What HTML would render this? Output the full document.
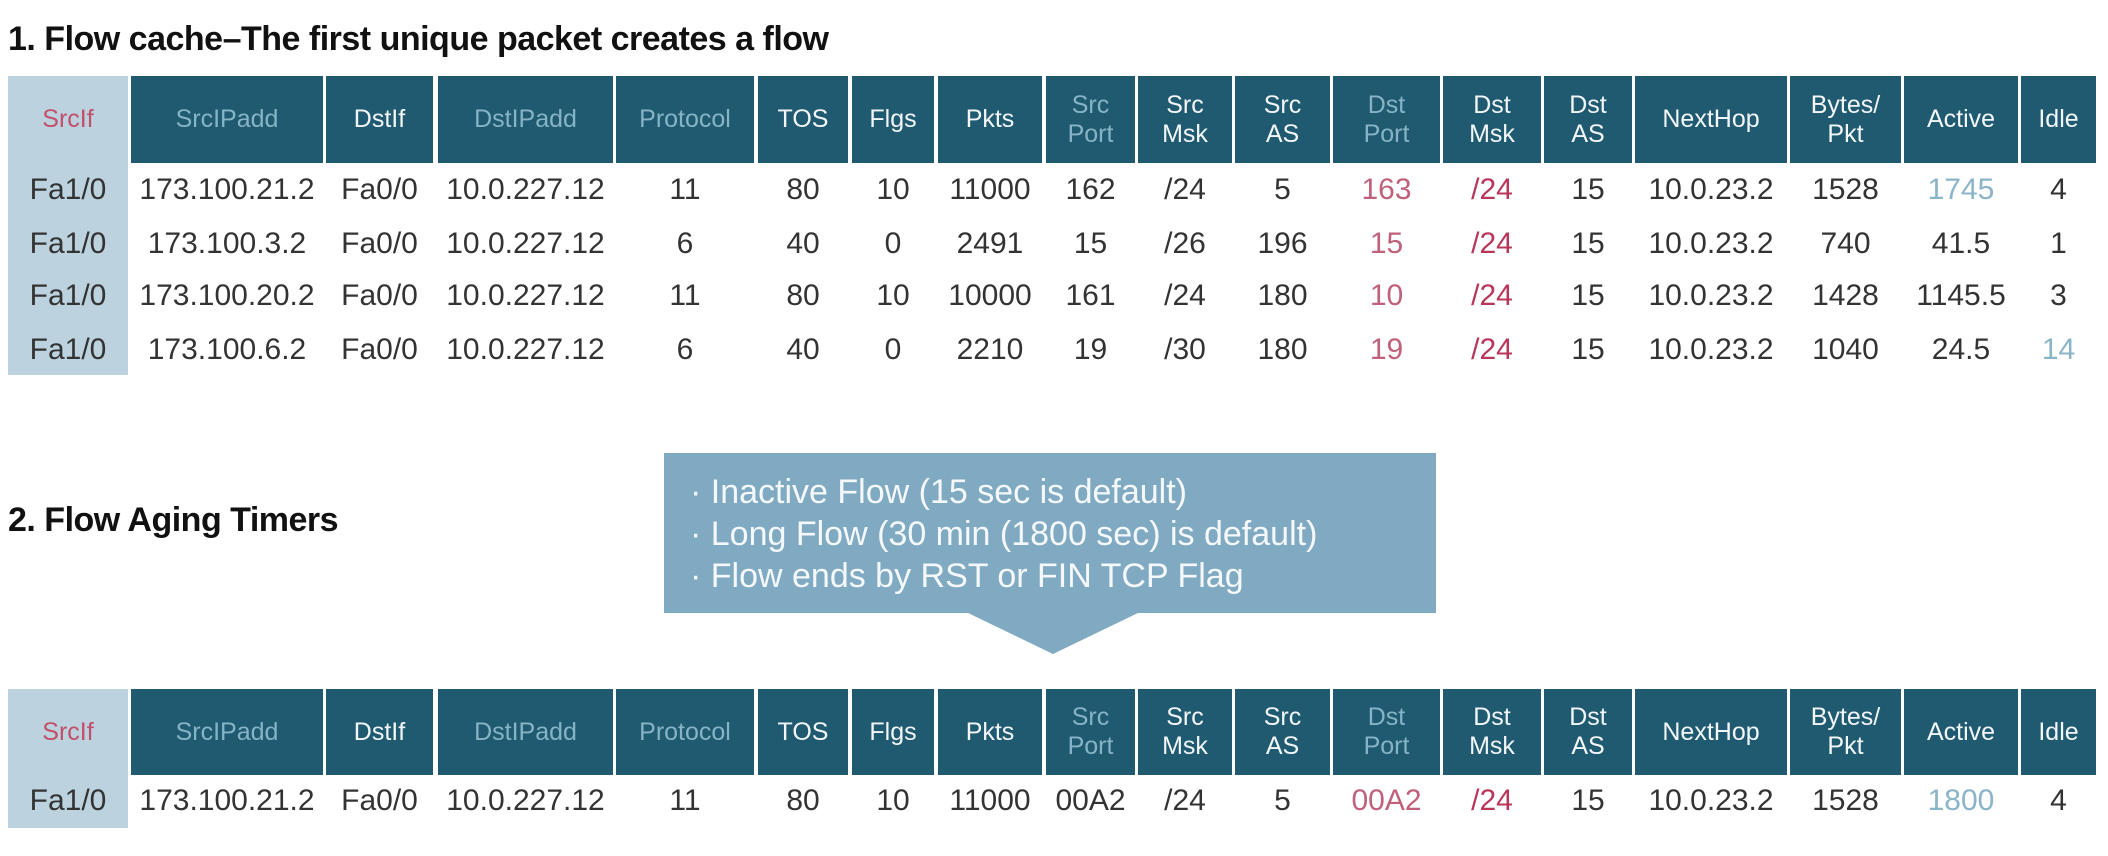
<!DOCTYPE html>
<html><head><meta charset="utf-8"><style>
body{margin:0;width:2108px;height:856px;background:#fff;position:relative;overflow:hidden;font-family:"Liberation Sans",sans-serif;}
.t{position:absolute;left:8px;font-weight:bold;font-size:34px;color:#111;letter-spacing:-0.5px;}
.lc{position:absolute;left:8px;width:120px;background:#bcd3df;}
.h,.d{position:absolute;display:flex;align-items:center;justify-content:center;text-align:center;}
.h{background:#1f5a70;color:#f2f6f8;font-size:25px;line-height:29px;}
.h.m{color:#86b4c6;}
.h.s{background:transparent;color:#c2506a;}
.d{font-size:30px;color:#333;height:50px;}
.c0{left:8px;width:120px}.c1{left:131px;width:192px}.c2{left:326px;width:107px}.c3{left:438px;width:175px}
.c4{left:616px;width:138px}.c5{left:758px;width:90px}.c6{left:852px;width:82px}.c7{left:938px;width:104px}
.c8{left:1046px;width:89px}.c9{left:1138px;width:94px}.c10{left:1235px;width:95px}.c11{left:1333px;width:107px}
.c12{left:1443px;width:98px}.c13{left:1544px;width:88px}.c14{left:1635px;width:152px}.c15{left:1790px;width:111px}
.c16{left:1904px;width:114px}.c17{left:2021px;width:75px}
.pk{color:#c0607a!important}.rd{color:#b8365a!important}.lb{color:#8ab4c8!important}
.box{position:absolute;left:664px;top:453px;width:772px;height:160px;background:#80aac2;}
.box div{position:absolute;left:26px;color:#f4f8fa;font-size:34px;white-space:nowrap;}
</style></head><body>
<div class="t" style="top:20px">1. Flow cache–The first unique packet creates a flow</div>
<div class="lc" style="top:76px;height:299px"></div>
<div class="h s c0" style="top:76px;height:87px">SrcIf</div>
<div class="h m c1" style="top:76px;height:87px">SrcIPadd</div>
<div class="h c2" style="top:76px;height:87px">DstIf</div>
<div class="h m c3" style="top:76px;height:87px">DstIPadd</div>
<div class="h m c4" style="top:76px;height:87px">Protocol</div>
<div class="h c5" style="top:76px;height:87px">TOS</div>
<div class="h c6" style="top:76px;height:87px">Flgs</div>
<div class="h c7" style="top:76px;height:87px">Pkts</div>
<div class="h m c8" style="top:76px;height:87px">Src<br>Port</div>
<div class="h c9" style="top:76px;height:87px">Src<br>Msk</div>
<div class="h c10" style="top:76px;height:87px">Src<br>AS</div>
<div class="h m c11" style="top:76px;height:87px">Dst<br>Port</div>
<div class="h c12" style="top:76px;height:87px">Dst<br>Msk</div>
<div class="h c13" style="top:76px;height:87px">Dst<br>AS</div>
<div class="h c14" style="top:76px;height:87px">NextHop</div>
<div class="h c15" style="top:76px;height:87px">Bytes/<br>Pkt</div>
<div class="h c16" style="top:76px;height:87px">Active</div>
<div class="h c17" style="top:76px;height:87px">Idle</div>

<div class="d c0" style="top:165px">Fa1/0</div><div class="d c1" style="top:165px">173.100.21.2</div><div class="d c2" style="top:165px">Fa0/0</div><div class="d c3" style="top:165px">10.0.227.12</div><div class="d c4" style="top:165px">11</div><div class="d c5" style="top:165px">80</div><div class="d c6" style="top:165px">10</div><div class="d c7" style="top:165px">11000</div><div class="d c8" style="top:165px">162</div><div class="d c9" style="top:165px">/24</div><div class="d c10" style="top:165px">5</div><div class="d c11 pk" style="top:165px">163</div><div class="d c12 rd" style="top:165px">/24</div><div class="d c13" style="top:165px">15</div><div class="d c14" style="top:165px">10.0.23.2</div><div class="d c15" style="top:165px">1528</div><div class="d c16 lb" style="top:165px">1745</div><div class="d c17" style="top:165px">4</div>

<div class="d c0" style="top:219px">Fa1/0</div><div class="d c1" style="top:219px">173.100.3.2</div><div class="d c2" style="top:219px">Fa0/0</div><div class="d c3" style="top:219px">10.0.227.12</div><div class="d c4" style="top:219px">6</div><div class="d c5" style="top:219px">40</div><div class="d c6" style="top:219px">0</div><div class="d c7" style="top:219px">2491</div><div class="d c8" style="top:219px">15</div><div class="d c9" style="top:219px">/26</div><div class="d c10" style="top:219px">196</div><div class="d c11 pk" style="top:219px">15</div><div class="d c12 rd" style="top:219px">/24</div><div class="d c13" style="top:219px">15</div><div class="d c14" style="top:219px">10.0.23.2</div><div class="d c15" style="top:219px">740</div><div class="d c16" style="top:219px">41.5</div><div class="d c17" style="top:219px">1</div>

<div class="d c0" style="top:271px">Fa1/0</div><div class="d c1" style="top:271px">173.100.20.2</div><div class="d c2" style="top:271px">Fa0/0</div><div class="d c3" style="top:271px">10.0.227.12</div><div class="d c4" style="top:271px">11</div><div class="d c5" style="top:271px">80</div><div class="d c6" style="top:271px">10</div><div class="d c7" style="top:271px">10000</div><div class="d c8" style="top:271px">161</div><div class="d c9" style="top:271px">/24</div><div class="d c10" style="top:271px">180</div><div class="d c11 pk" style="top:271px">10</div><div class="d c12 rd" style="top:271px">/24</div><div class="d c13" style="top:271px">15</div><div class="d c14" style="top:271px">10.0.23.2</div><div class="d c15" style="top:271px">1428</div><div class="d c16" style="top:271px">1145.5</div><div class="d c17" style="top:271px">3</div>

<div class="d c0" style="top:325px">Fa1/0</div><div class="d c1" style="top:325px">173.100.6.2</div><div class="d c2" style="top:325px">Fa0/0</div><div class="d c3" style="top:325px">10.0.227.12</div><div class="d c4" style="top:325px">6</div><div class="d c5" style="top:325px">40</div><div class="d c6" style="top:325px">0</div><div class="d c7" style="top:325px">2210</div><div class="d c8" style="top:325px">19</div><div class="d c9" style="top:325px">/30</div><div class="d c10" style="top:325px">180</div><div class="d c11 pk" style="top:325px">19</div><div class="d c12 rd" style="top:325px">/24</div><div class="d c13" style="top:325px">15</div><div class="d c14" style="top:325px">10.0.23.2</div><div class="d c15" style="top:325px">1040</div><div class="d c16" style="top:325px">24.5</div><div class="d c17 lb" style="top:325px">14</div>

<div class="t" style="top:501px">2. Flow Aging Timers</div>
<div class="box">
<div style="top:20px">· Inactive Flow (15 sec is default)</div>
<div style="top:62px">· Long Flow (30 min (1800 sec) is default)</div>
<div style="top:104px">· Flow ends by RST or FIN TCP Flag</div>
</div>
<svg style="position:absolute;left:0;top:0" width="2108" height="856"><polygon points="966,612 1140,612 1053,654" fill="#80aac2"/></svg>

<div class="lc" style="top:689px;height:139px"></div>
<div class="h s c0" style="top:689px;height:86px">SrcIf</div>
<div class="h m c1" style="top:689px;height:86px">SrcIPadd</div>
<div class="h c2" style="top:689px;height:86px">DstIf</div>
<div class="h m c3" style="top:689px;height:86px">DstIPadd</div>
<div class="h m c4" style="top:689px;height:86px">Protocol</div>
<div class="h c5" style="top:689px;height:86px">TOS</div>
<div class="h c6" style="top:689px;height:86px">Flgs</div>
<div class="h c7" style="top:689px;height:86px">Pkts</div>
<div class="h m c8" style="top:689px;height:86px">Src<br>Port</div>
<div class="h c9" style="top:689px;height:86px">Src<br>Msk</div>
<div class="h c10" style="top:689px;height:86px">Src<br>AS</div>
<div class="h m c11" style="top:689px;height:86px">Dst<br>Port</div>
<div class="h c12" style="top:689px;height:86px">Dst<br>Msk</div>
<div class="h c13" style="top:689px;height:86px">Dst<br>AS</div>
<div class="h c14" style="top:689px;height:86px">NextHop</div>
<div class="h c15" style="top:689px;height:86px">Bytes/<br>Pkt</div>
<div class="h c16" style="top:689px;height:86px">Active</div>
<div class="h c17" style="top:689px;height:86px">Idle</div>

<div class="d c0" style="top:776px">Fa1/0</div><div class="d c1" style="top:776px">173.100.21.2</div><div class="d c2" style="top:776px">Fa0/0</div><div class="d c3" style="top:776px">10.0.227.12</div><div class="d c4" style="top:776px">11</div><div class="d c5" style="top:776px">80</div><div class="d c6" style="top:776px">10</div><div class="d c7" style="top:776px">11000</div><div class="d c8" style="top:776px">00A2</div><div class="d c9" style="top:776px">/24</div><div class="d c10" style="top:776px">5</div><div class="d c11 pk" style="top:776px">00A2</div><div class="d c12 rd" style="top:776px">/24</div><div class="d c13" style="top:776px">15</div><div class="d c14" style="top:776px">10.0.23.2</div><div class="d c15" style="top:776px">1528</div><div class="d c16 lb" style="top:776px">1800</div><div class="d c17" style="top:776px">4</div>
</body></html>
